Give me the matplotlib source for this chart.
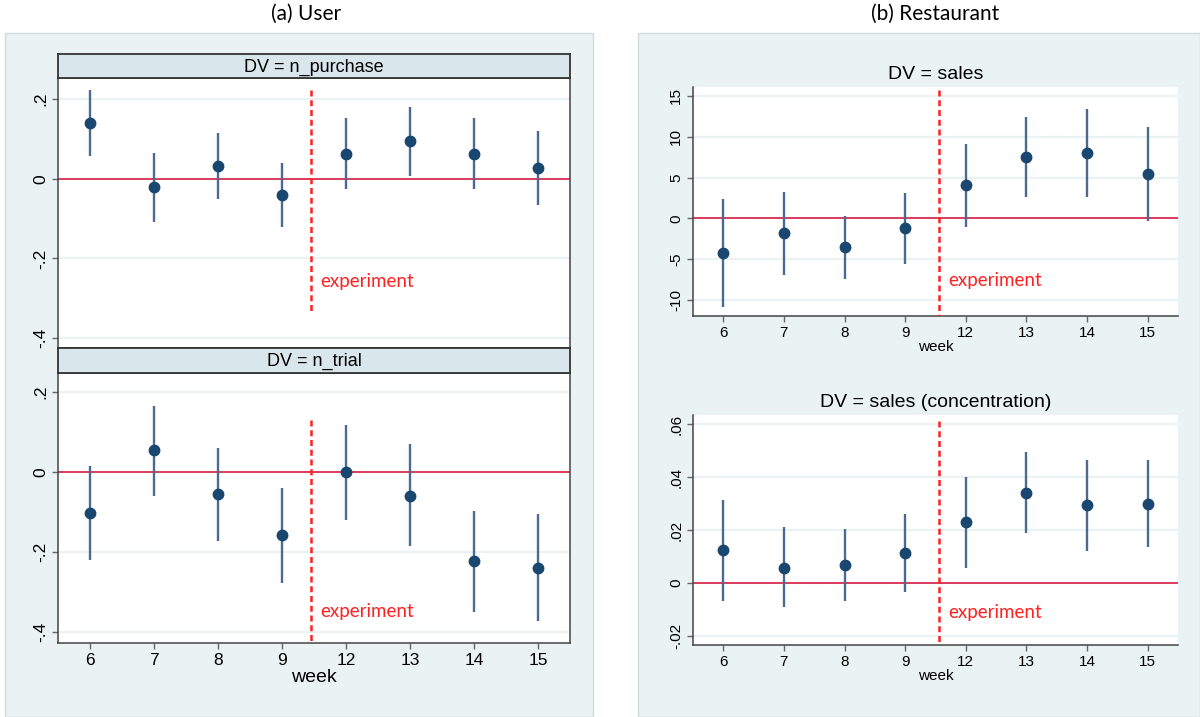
import matplotlib
matplotlib.use("Agg")
import matplotlib.pyplot as plt
from matplotlib.patches import Rectangle

# coefficient estimates with 95% CIs
weeks = ["6", "7", "8", "9", "12", "13", "14", "15"]

purchase_coef = [0.140, -0.021, 0.033, -0.041, 0.063, 0.094, 0.063, 0.026]
purchase_lo = [0.058, -0.108, -0.050, -0.122, -0.026, 0.007, -0.026, -0.066]
purchase_hi = [0.223, 0.065, 0.116, 0.039, 0.153, 0.181, 0.152, 0.119]

trial_coef = [-0.102, 0.054, -0.056, -0.158, 0.0, -0.059, -0.223, -0.239]
trial_lo = [-0.220, -0.059, -0.172, -0.277, -0.119, -0.186, -0.350, -0.373]
trial_hi = [0.016, 0.166, 0.059, -0.039, 0.119, 0.069, -0.098, -0.105]

sales_coef = [-4.29, -1.84, -3.55, -1.22, 4.04, 7.55, 8.04, 5.47]
sales_lo = [-10.86, -6.98, -7.39, -5.59, -1.02, 2.65, 2.65, -0.29]
sales_hi = [2.33, 3.22, 0.29, 3.10, 9.10, 12.41, 13.43, 11.14]

conc_coef = [0.0124, 0.0058, 0.0067, 0.0114, 0.0230, 0.0341, 0.0293, 0.0299]
conc_lo = [-0.0068, -0.0093, -0.0068, -0.0035, 0.0058, 0.0187, 0.0120, 0.0135]
conc_hi = [0.0314, 0.0211, 0.0203, 0.0262, 0.0401, 0.0496, 0.0466, 0.0464]

user_yticks = [-0.4, -0.2, 0, 0.2]
user_ylabels = ["-.4", "-.2", "0", ".2"]
sales_yticks = [-10, -5, 0, 5, 10, 15]
sales_ylabels = ["-10", "-5", "0", "5", "10", "15"]
conc_yticks = [-0.02, 0, 0.02, 0.04, 0.06]
conc_ylabels = ["-.02", "0", ".02", ".04", ".06"]

W, H = 1200, 717
BG = "#eaf2f3"
STRIP = "#d9e6eb"
NAVY = "#1a476f"
CI = "#4a6a90"
ZERO = "#dc3a5c"
RED = "#ff2020"
SANS = ["Liberation Sans", "DejaVu Sans"]

plt.rcParams["font.family"] = SANS

fig = plt.figure(figsize=(W / 100, H / 100), dpi=100)
fig.patch.set_facecolor("white")


def box(x0, y0, x1, y1):
    return [x0 / W, 1 - y1 / H, (x1 - x0) / W, (y1 - y0) / H]


# panel backgrounds
for x0, x1 in [(5, 593), (638, 1200)]:
    fig.patches.append(Rectangle((x0 / W, 0), (x1 - x0) / W, 1 - 33 / H,
                                 transform=fig.transFigure, facecolor=BG,
                                 edgecolor="#cfdcdc", lw=1, zorder=-5))

fig.text(306 / W, 1 - 14 / H, "(a) User", ha="center", va="center",
         fontsize=15, family=["Lato", "DejaVu Sans"])
fig.text(935 / W, 1 - 14 / H, "(b) Restaurant", ha="center", va="center",
         fontsize=15, family=["Lato", "DejaVu Sans"])

x = list(range(len(weeks)))


def draw(ax, coef, lo, hi, yticks, ylabels, ylim, vline, txt_y, fs, full_box):
    ax.set_facecolor("white")
    ax.set_xlim(-0.5, 7.5)
    ax.set_ylim(*ylim)
    ax.set_yticks(yticks)
    ax.set_yticklabels(ylabels, rotation=90, va="center")
    for t in yticks:
        ax.axhline(t, color=BG, lw=1.6, zorder=1)
    ax.axhline(0, color=ZERO, lw=1.4, zorder=2)
    ax.vlines(x, lo, hi, color=CI, lw=1.7, zorder=3)
    ax.plot(x, coef, "o", color=NAVY, ms=7.5, zorder=4)
    ax.plot([vline[0], vline[0]], [vline[1], vline[2]], color=RED, lw=1.8,
            ls=(0, (2.4, 1.5)), zorder=3)
    ax.annotate("experiment", (vline[0], txt_y), xytext=(7, 0),
                textcoords="offset points", ha="left", va="center",
                color=RED, fontsize=13.5, family=["Lato", "DejaVu Sans"])
    ax.tick_params(axis="both", labelsize=fs, length=4, color="#666666",
                   width=1, pad=3)
    for s in ["top", "right"]:
        ax.spines[s].set_visible(full_box)
    for s in ax.spines.values():
        s.set_color("#444444")
        s.set_linewidth(1.1)


def strip(rect, label):
    sa = fig.add_axes(box(*rect))
    sa.set_facecolor(STRIP)
    sa.set_xticks([])
    sa.set_yticks([])
    for s in sa.spines.values():
        s.set_color("#333333")
        s.set_linewidth(1.3)
    sa.text(0.5, 0.45, label, ha="center", va="center", fontsize=13,
            transform=sa.transAxes)


# (a) User
ax1 = fig.add_axes(box(58, 78, 570, 348))
draw(ax1, purchase_coef, purchase_lo, purchase_hi, user_yticks, user_ylabels,
     (-0.425, 0.253), (3.45, 0.223, -0.34), -0.258, 12.5, True)
ax1.set_xticks([])
strip((58, 54, 570, 78), "DV = n_purchase")

ax2 = fig.add_axes(box(58, 373, 570, 643))
draw(ax2, trial_coef, trial_lo, trial_hi, user_yticks, user_ylabels,
     (-0.428, 0.248), (3.45, 0.131, -0.428), -0.350, 12.5, True)
ax2.set_xticks(x)
ax2.set_xticklabels(weeks)
ax2.set_xlabel("week", fontsize=14, labelpad=1)
strip((58, 348, 570, 373), "DV = n_trial")

# (b) Restaurant
ax3 = fig.add_axes(box(693, 87, 1178, 316))
draw(ax3, sales_coef, sales_lo, sales_hi, sales_yticks, sales_ylabels,
     (-11.96, 16.1), (3.55, 15.7, -11.96), -7.6, 11, False)
ax3.set_xticks(x)
ax3.set_xticklabels(weeks)
ax3.set_xlabel("week", fontsize=11, labelpad=0)
ax3.set_title("DV = sales", fontsize=14, pad=6)

ax4 = fig.add_axes(box(693, 415, 1178, 645))
draw(ax4, conc_coef, conc_lo, conc_hi, conc_yticks, conc_ylabels,
     (-0.0235, 0.0635), (3.55, 0.0613, -0.0235), -0.0112, 11, False)
ax4.set_xticks(x)
ax4.set_xticklabels(weeks)
ax4.set_xlabel("week", fontsize=11, labelpad=0)
ax4.set_title("DV = sales (concentration)", fontsize=14, pad=6)

fig.savefig("out.png", dpi=100, facecolor="white")
